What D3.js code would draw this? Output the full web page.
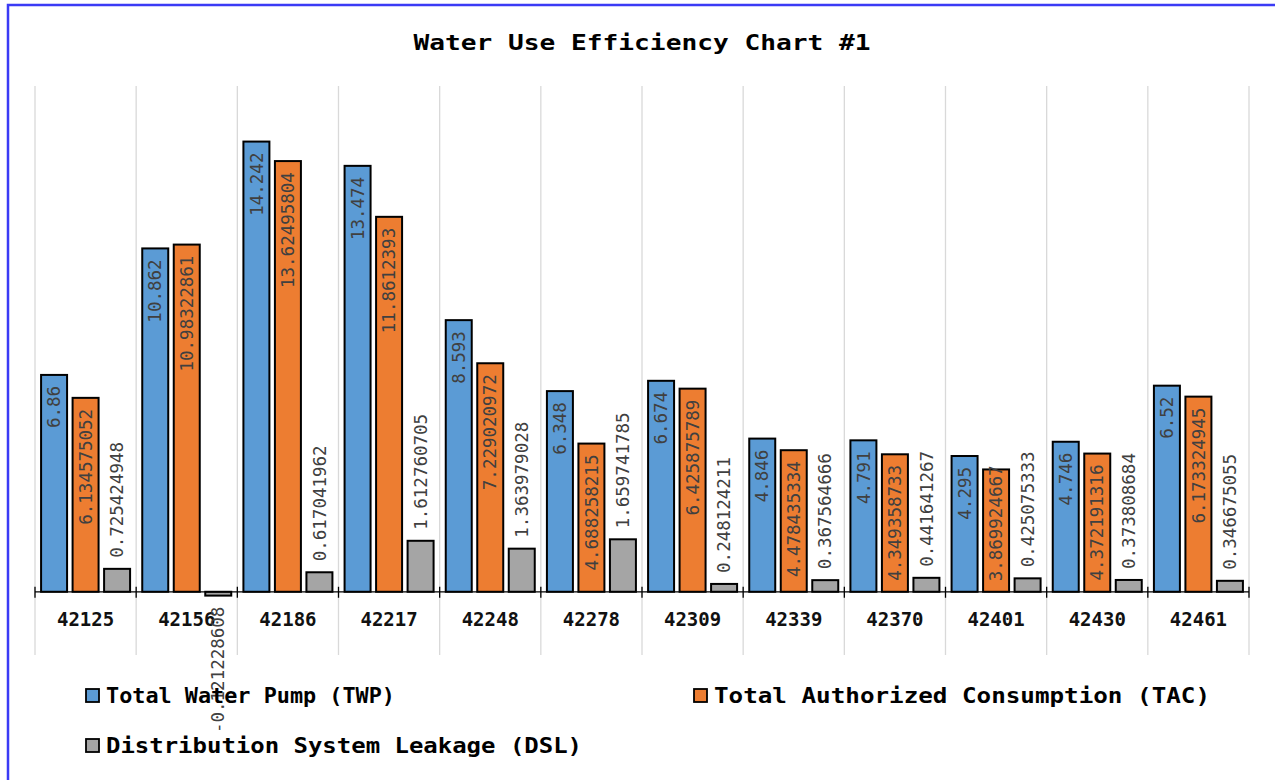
<!DOCTYPE html>
<html><head><meta charset="utf-8">
<script src="https://cdn.jsdelivr.net/npm/d3@7"></script>
<style>html,body{margin:0;padding:0;background:#fff;}svg{display:block;}</style>
</head><body>
<svg id="chart" width="1275" height="780"></svg>
<script>
const categories = ["42125","42156","42186","42217","42248","42278","42309","42339","42370","42401","42430","42461"];
const seriesNames = ["Total Water Pump (TWP)","Total Authorized Consumption (TAC)","Distribution System Leakage (DSL)"];
const twp = [6.86,10.862,14.242,13.474,8.593,6.348,6.674,4.846,4.791,4.295,4.746,6.52];
const tac = [6.134575052,10.98322861,13.62495804,11.8612393,7.229020972,4.688258215,6.425875789,4.478435334,4.349358733,3.869924667,4.372191316,6.173324945];
const dsl = [0.725424948,-0.121228608,0.617041962,1.612760705,1.363979028,1.659741785,0.248124211,0.367564666,0.441641267,0.425075333,0.373808684,0.346675055];
const colors = ["#5B9BD5","#ED7D31","#A5A5A5"];
const yDomain = [-2, 16];

const svg = d3.select("#chart");
const series = [twp, tac, dsl];

// frame
svg.append("path").attr("d","M8,782 L8,5 L1280,5").attr("fill","none").attr("stroke","#3b3bf5").attr("stroke-width",2.5);

// title
svg.append("text").attr("x",642).attr("y",50).attr("text-anchor","middle")
  .attr("font-family","DejaVu Sans Mono").attr("font-weight","bold").attr("font-size",21)
  .attr("textLength",457).attr("lengthAdjust","spacingAndGlyphs").attr("fill","#000")
  .text("Water Use Efficiency Chart #1");

const x = d3.scaleBand().domain(categories).range([35,1249]).paddingInner(0).paddingOuter(0);
const xi = d3.scaleBand().domain([0,1,2]).range([0,x.bandwidth()]).paddingInner(0.175).paddingOuter(0.193);
const y = d3.scaleLinear().domain(yDomain).range([655,86]);
const y0 = y(0);

// gridlines
const bounds = categories.map(c=>x(c)).concat([x.range()[1]]);
svg.append("g").selectAll("line").data(bounds).join("line")
  .attr("x1",d=>d).attr("x2",d=>d).attr("y1",y(yDomain[1])).attr("y2",y(yDomain[0]))
  .attr("stroke","#d9d9d9").attr("stroke-width",1.3);

// bars
const data = [];
categories.forEach((c,i)=>series.forEach((s,j)=>data.push({c,j,v:s[i]})));
svg.append("g").selectAll("rect").data(data).join("rect")
  .attr("x",d=>x(d.c)+xi(d.j)).attr("width",xi.bandwidth())
  .attr("y",d=>Math.min(y(d.v),y0)).attr("height",d=>Math.abs(y(d.v)-y0))
  .attr("fill",d=>colors[d.j]).attr("stroke","#000").attr("stroke-width",2);

// axis line + ticks
svg.append("line").attr("x1",x.range()[0]).attr("x2",x.range()[1]).attr("y1",y0).attr("y2",y0)
  .attr("stroke","#000").attr("stroke-width",1.3);
svg.append("g").selectAll("line").data(bounds).join("line")
  .attr("x1",d=>d).attr("x2",d=>d).attr("y1",y0-5).attr("y2",y0+6)
  .attr("stroke","#000").attr("stroke-width",1.3);

// category labels
svg.append("g").selectAll("text").data(categories).join("text")
  .attr("x",d=>x(d)+x.bandwidth()/2).attr("y",626).attr("text-anchor","middle")
  .attr("font-family","DejaVu Sans Mono").attr("font-weight","bold").attr("font-size",19)
  .attr("fill","#111").text(d=>d);

// data labels
const fs = 17.5, cw = fs*0.602, pad = 11;
svg.append("g").selectAll("text").data(data).join("text")
  .each(function(d){
    const t = String(d.v);
    const len = t.length*cw;
    const cx = x(d.c)+xi(d.j)+xi.bandwidth()/2;
    let yEnd, anchor;
    if (d.j < 2) {
      yEnd = y(d.v)+pad;
      if (yEnd+len > y0-pad) yEnd = Math.max(y(d.v)-4, y0-pad-len);
      anchor = "end";
    } else if (d.v >= 0) {
      yEnd = y(d.v)-pad; anchor = "start";
    } else {
      yEnd = y(d.v)+pad; anchor = "end";
    }
    d3.select(this).attr("transform",`translate(${cx},${yEnd}) rotate(-90)`)
      .attr("text-anchor",anchor).attr("dy","0.35em")
      .attr("font-family","DejaVu Sans Mono").attr("font-size",fs).attr("fill","#404040").text(t);
  });

// legend
const legendPos = [[86,689],[694,689],[86,739]];
const legendLen = [289,496,476];
const lg = svg.append("g").selectAll("g").data(seriesNames).join("g")
  .attr("transform",(d,i)=>`translate(${legendPos[i][0]},${legendPos[i][1]})`);
lg.append("rect").attr("width",13).attr("height",13).attr("fill",(d,i)=>colors[i]).attr("stroke","#000").attr("stroke-width",1.8);
lg.append("text").attr("x",20).attr("y",13.5).attr("font-family","DejaVu Sans Mono").attr("font-weight","bold")
  .attr("font-size",21.5).attr("fill","#000")
  .attr("textLength",(d,i)=>legendLen[i]).attr("lengthAdjust","spacingAndGlyphs").text(d=>d);
</script>
</body></html>
